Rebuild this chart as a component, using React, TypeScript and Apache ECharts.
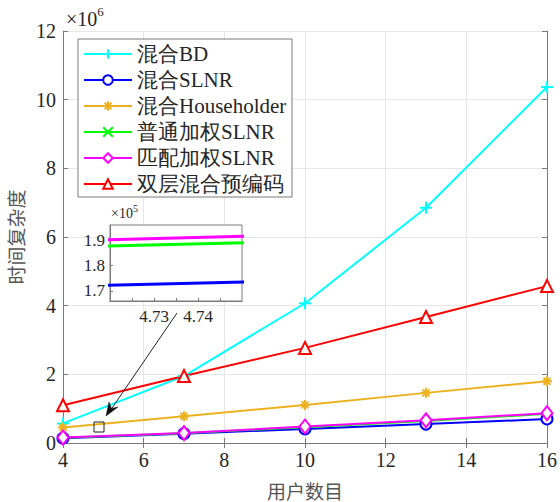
import React, { useEffect, useRef } from "react";
import * as echarts from "echarts";

const users = [4, 7, 10, 13, 16];
const hybridBD = [0.57, 1.95, 4.07, 6.85, 10.37];
const hybridSLNR = [0.141, 0.271, 0.41, 0.55, 0.70];
const hybridHouseholder = [0.45, 0.78, 1.11, 1.46, 1.80];
const weightedSLNR = [0.1565, 0.2865, 0.46, 0.64, 0.85];
const matchedSLNR = [0.159, 0.289, 0.48, 0.66, 0.87];
const dualLayer = [1.10, 1.95, 2.77, 3.67, 4.57];

const seriesNames = ["混合BD", "混合SLNR", "混合Householder", "普通加权SLNR", "匹配加权SLNR", "双层混合预编码"];
const xTicks = [4, 6, 8, 10, 12, 14, 16];
const yTicks = [0, 2, 4, 6, 8, 10, 12];
const insetXLabels = [4.73, 4.74];
const insetXTicks = [4.725, 4.73, 4.735, 4.74, 4.745];
const insetYTicks = [1.7, 1.8, 1.9];

const SERIF = "Liberation Serif";
const CJK = "Noto Sans CJK SC";
const AXIS_C = "#7a7a7a";

const PLUS = "path://M5 0L5 10M0 5L10 5";
const STAR = "path://M5 0L5 10M0 5L10 5M1.5 1.5L8.5 8.5M8.5 1.5L1.5 8.5";
const CROSS = "path://M0 0L10 10M10 0L0 10";

export default function App() {
  const ref = useRef<HTMLDivElement>(null);
  useEffect(() => {
    if (!ref.current) return;
    const chart = echarts.init(ref.current, undefined, { renderer: "svg" });
    const pts = (vals: number[], k = 1) => users.map((u, i) => [u, vals[i] * k]);
    const defs = [
      { name: seriesNames[0], data: hybridBD, color: "#00FFFF", symbol: PLUS, size: 12 },
      { name: seriesNames[1], data: hybridSLNR, color: "#0000FF", symbol: "emptyCircle", size: 11 },
      { name: seriesNames[2], data: hybridHouseholder, color: "#EDB120", symbol: STAR, size: 10 },
      { name: seriesNames[3], data: weightedSLNR, color: "#00FF00", symbol: CROSS, size: 7 },
      { name: seriesNames[4], data: matchedSLNR, color: "#FF00FF", symbol: "emptyDiamond", size: [11, 14] },
      { name: seriesNames[5], data: dualLayer, color: "#FF0000", symbol: "emptyTriangle", size: 12 },
    ];
    const mainSeries = defs.map((d) => ({
      name: d.name,
      type: "line",
      xAxisIndex: 0,
      yAxisIndex: 0,
      data: pts(d.data),
      symbol: d.symbol,
      symbolSize: d.size,
      showAllSymbol: true,
      lineStyle: { color: d.color, width: 2 },
      itemStyle: { color: d.color, borderColor: d.color, borderWidth: 2 },
      z: 3,
    }));
    const insetSeries = [1, 3, 4].map((i) => ({
      name: defs[i].name + "-inset",
      type: "line",
      xAxisIndex: 2,
      yAxisIndex: 2,
      data: pts(defs[i].data, 10),
      showSymbol: false,
      clip: true,
      silent: true,
      lineStyle: { color: defs[i].color, width: 3 },
      itemStyle: { color: defs[i].color },
      z: 6,
    }));
    const tickLabel = { fontFamily: SERIF, fontSize: 20, color: "#262626" };
    chart.setOption({
      animation: false,
      backgroundColor: "#fff",
      textStyle: { fontFamily: SERIF },
      grid: [
        { left: 63, top: 31, width: 484, height: 412, show: false, containLabel: false, outerBoundsMode: "none" },
        { left: 110, top: 225, width: 132, height: 76, show: false, containLabel: false, outerBoundsMode: "none" },
      ],
      legend: {
        data: seriesNames,
        orient: "vertical",
        left: 83,
        top: 43,
        itemWidth: 48,
        itemHeight: 12,
        itemGap: 4,
        padding: 0,
        z: 8,
        textStyle: { fontFamily: SERIF, fontSize: 21, lineHeight: 22, color: "#262626" },
        selectedMode: false,
      },
      xAxis: [
        {
          type: "value", gridIndex: 0, position: "bottom", min: 4, max: 16, interval: 2,
          axisLine: { show: true, lineStyle: { color: AXIS_C } },
          axisTick: { show: true, inside: true, length: 5, lineStyle: { color: AXIS_C }, customValues: xTicks },
          axisLabel: { ...tickLabel, margin: 7, customValues: xTicks },
          splitLine: { show: true, lineStyle: { color: "#e6e6e6" } },
          name: "用户数目", nameLocation: "middle", nameGap: 36,
          nameTextStyle: { fontFamily: CJK, fontSize: 19, color: "#555", verticalAlign: "top", lineHeight: 22 },
        },
        {
          type: "value", gridIndex: 0, position: "top", min: 4, max: 16, interval: 2,
          axisLine: { show: true, lineStyle: { color: AXIS_C } },
          axisTick: { show: true, inside: true, length: 5, lineStyle: { color: AXIS_C } },
          axisLabel: { show: false }, splitLine: { show: false },
        },
        {
          type: "value", gridIndex: 1, position: "bottom", min: 4.72, max: 4.75, z: 5,
          axisLine: { show: true, lineStyle: { color: AXIS_C } },
          axisTick: { show: true, inside: true, length: 3, lineStyle: { color: AXIS_C }, customValues: insetXTicks },
          axisLabel: { fontFamily: SERIF, fontSize: 17, color: "#262626", margin: 7, customValues: insetXLabels },
          splitLine: { show: false },
        },
      ],
      yAxis: [
        {
          type: "value", gridIndex: 0, position: "left", min: 0, max: 12, interval: 2,
          axisLine: { show: true, lineStyle: { color: AXIS_C } },
          axisTick: { show: true, inside: true, length: 5, lineStyle: { color: AXIS_C }, customValues: yTicks },
          axisLabel: { ...tickLabel, margin: 7, customValues: yTicks },
          splitLine: { show: true, lineStyle: { color: "#e6e6e6" } },
          name: "时间复杂度", nameLocation: "middle", nameGap: 35, nameRotate: 90,
          nameTextStyle: { fontFamily: CJK, fontSize: 19, color: "#555" },
        },
        {
          type: "value", gridIndex: 0, position: "right", min: 0, max: 12, interval: 2,
          axisLine: { show: true, lineStyle: { color: AXIS_C } },
          axisTick: { show: true, inside: true, length: 5, lineStyle: { color: AXIS_C } },
          axisLabel: { show: false }, splitLine: { show: false },
        },
        {
          type: "value", gridIndex: 1, position: "left", min: 1.66, max: 1.96, z: 5,
          axisLine: { show: true, lineStyle: { color: AXIS_C } },
          axisTick: { show: true, inside: true, length: 3, lineStyle: { color: AXIS_C }, customValues: insetYTicks },
          axisLabel: { fontFamily: SERIF, fontSize: 17, color: "#262626", margin: 5, customValues: insetYTicks },
          splitLine: { show: false },
        },
      ],
      graphic: [
        { type: "rect", z: 1, shape: { x: 78, y: 39, width: 214, height: 158 }, style: { fill: "#fff", stroke: AXIS_C, lineWidth: 1 } },
        { type: "rect", z: 4, shape: { x: 110, y: 225, width: 132, height: 76 }, style: { fill: "#fff", stroke: AXIS_C, lineWidth: 1 } },
        {
          type: "text", z: 5, x: 66, y: 5,
          style: {
            text: "{a|×10}{b|6}", fill: "#262626",
            rich: {
              a: { fontFamily: SERIF, fontSize: 20, lineHeight: 24, verticalAlign: "bottom", fill: "#262626" },
              b: { fontFamily: SERIF, fontSize: 13, lineHeight: 24, verticalAlign: "top", fill: "#262626" },
            },
          },
        },
        {
          type: "text", z: 7, x: 111, y: 203,
          style: {
            text: "{a|×10}{b|5}", fill: "#262626",
            rich: {
              a: { fontFamily: SERIF, fontSize: 14, lineHeight: 17, verticalAlign: "bottom", fill: "#262626" },
              b: { fontFamily: SERIF, fontSize: 10, lineHeight: 17, verticalAlign: "top", fill: "#262626" },
            },
          },
        },
        { type: "rect", z: 5, shape: { x: 94, y: 422, width: 10, height: 10 }, style: { fill: "none", stroke: "#222", lineWidth: 1 } },
        { type: "line", z: 5, shape: { x1: 177, y1: 313, x2: 110, y2: 411 }, style: { stroke: "#222", lineWidth: 1 } },
        { type: "polygon", z: 5, shape: { points: [[106, 416], [118, 407], [111.5, 408.5], [109, 402]] }, style: { fill: "#111", stroke: "#111", lineWidth: 0.5 } },
      ],
      series: [...mainSeries, ...insetSeries],
    });
    return () => chart.dispose();
  }, []);
  return <div ref={ref} style={{ position: "absolute", left: 0, top: 0, width: 560, height: 502 }} />;
}
